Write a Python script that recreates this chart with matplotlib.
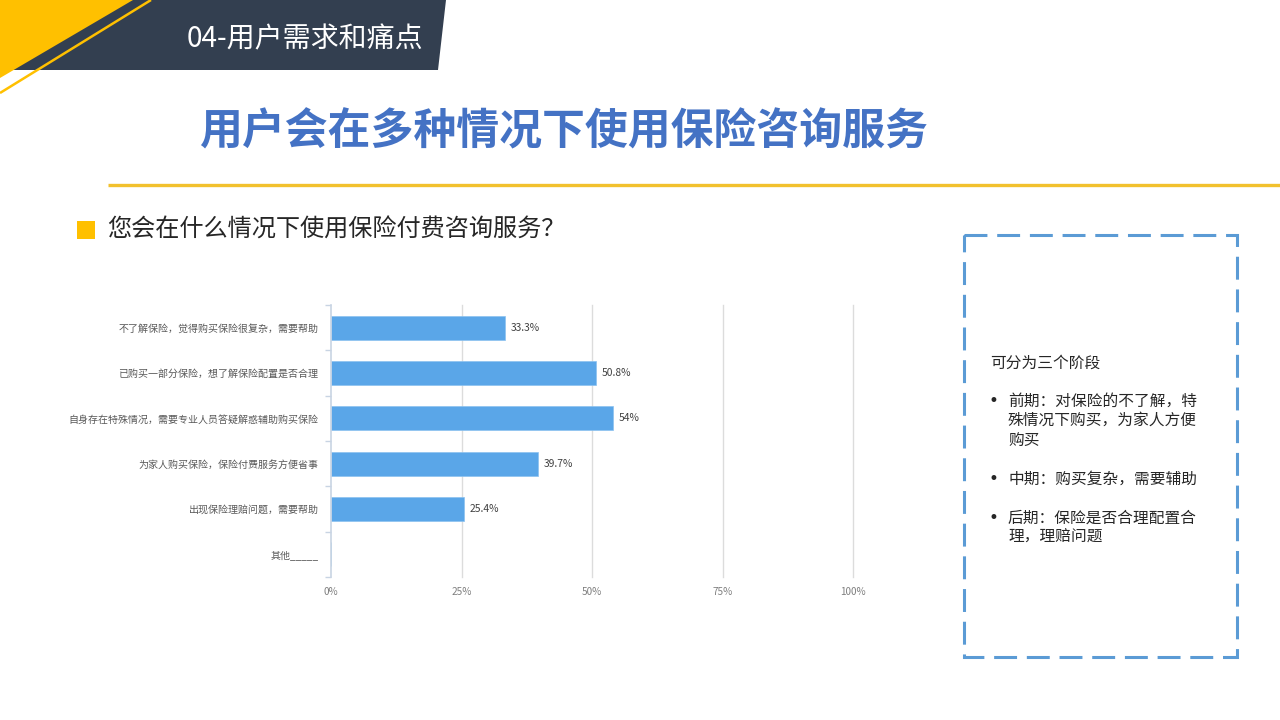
import matplotlib.pyplot as plt
from matplotlib.patches import Polygon, Rectangle

plt.rcParams['font.family'] = ['Noto Sans CJK SC', 'DejaVu Sans']

# chart data
categories = ['不了解保险，觉得购买保险很复杂，需要帮助',
              '已购买一部分保险，想了解保险配置是否合理',
              '自身存在特殊情况，需要专业人员答疑解惑辅助购买保险',
              '为家人购买保险，保险付费服务方便省事',
              '出现保险理赔问题，需要帮助',
              '其他_____']
values = [33.3, 50.8, 54, 39.7, 25.4, 0]
x_ticks = [0, 25, 50, 75, 100]
x_tick_labels = ['0%', '25%', '50%', '75%', '100%']

header_text = '04-用户需求和痛点'
title_text = '用户会在多种情况下使用保险咨询服务'
question_text = '您会在什么情况下使用保险付费咨询服务？'
box_intro = '可分为三个阶段'
box_points = [['前期：对保险的不了解，特', '殊情况下购买，为家人方便', '购买'],
              ['中期：购买复杂，需要辅助'],
              ['后期：保险是否合理配置合', '理，理赔问题']]

YELLOW = '#FFC000'
DARK = '#333F50'
BLUE_TITLE = '#4472C4'
BAR = '#5AA6E8'

fig = plt.figure(figsize=(12.8, 7.2), dpi=100)
fig.patch.set_facecolor('white')

# background layer in pixel coordinates
bg = fig.add_axes([0, 0, 1, 1])
bg.set_xlim(0, 1280)
bg.set_ylim(720, 0)
bg.axis('off')

bg.add_patch(Polygon([(0, 0), (446, 0), (438, 70), (0, 70)], closed=True,
                     facecolor=DARK, edgecolor='none'))
bg.add_patch(Polygon([(0, 0), (133, 0), (0, 78)], closed=True,
                     facecolor=YELLOW, edgecolor='none'))
bg.plot([151, 0], [0, 93], color=YELLOW, lw=1.8, solid_capstyle='butt')
bg.text(187, 39, header_text, color='white', fontsize=20.2, ha='left', va='center')

bg.text(199, 131, title_text, color=BLUE_TITLE, fontsize=30.9, fontweight='bold',
        ha='left', va='center')
bg.plot([108, 1280], [185, 185], color='#F2C12E', lw=2.4, solid_capstyle='butt')

bg.add_patch(Rectangle((77, 221), 18, 18, facecolor=YELLOW, edgecolor='none'))
bg.text(107, 230, question_text, color='#262626', fontsize=17.4, ha='left', va='center')

# dashed box on the right
bg.add_patch(Rectangle((964, 235), 273, 422, facecolor='none', edgecolor='#5B9BD5',
                       lw=2.2, linestyle=(0, (7.5, 3.2))))
bg.text(990, 363, box_intro, color='#262626', fontsize=11.3, ha='left', va='center')
y = 401
for lines in box_points:
    bg.text(993, y, '•', color='#262626', fontsize=12, ha='center', va='center',
            family='DejaVu Sans')
    for line in lines:
        bg.text(1008, y, line, color='#262626', fontsize=11.3, ha='left', va='center')
        y += 19.5
    y += 19.5

# bar chart
ax = fig.add_axes([331 / 1280, 1 - 577 / 720, (853 - 331) / 1280, (577 - 305) / 720])
ypos = list(range(len(categories)))
ax.barh(ypos, values, height=0.53, color=BAR, edgecolor='#8CC2F0', lw=0.5)
for yy, v in zip(ypos, values):
    if v > 0:
        ax.text(v + 1.1, yy, f'{v:g}%', color='#404040', fontsize=7.4,
                ha='left', va='center')

ax.set_xlim(0, 100)
ax.set_ylim(len(categories) - 0.5, -0.5)
ax.set_yticks(ypos)
ax.set_yticklabels(categories, fontsize=7.2, color='#595959')
ax.set_yticks([i - 0.5 for i in range(len(categories) + 1)], minor=True)
ax.tick_params(axis='y', which='major', length=0, pad=9)
ax.tick_params(axis='y', which='minor', length=4, color='#C8D4E3', width=1)
ax.set_xticks(x_ticks)
ax.set_xticklabels(x_tick_labels, fontsize=7.2, color='#7F7F7F')
ax.tick_params(axis='x', length=0, pad=7)
ax.grid(axis='x', color='#DCDCDC', lw=1)
ax.set_axisbelow(True)
for s in ['top', 'right', 'bottom']:
    ax.spines[s].set_visible(False)
ax.spines['left'].set_color('#C8D4E3')
ax.spines['left'].set_linewidth(1.2)
gl = ax.get_xgridlines()
gl[0].set_visible(False)
for g in gl:
    g.set_clip_on(False)

plt.savefig('out.png', dpi=100)
